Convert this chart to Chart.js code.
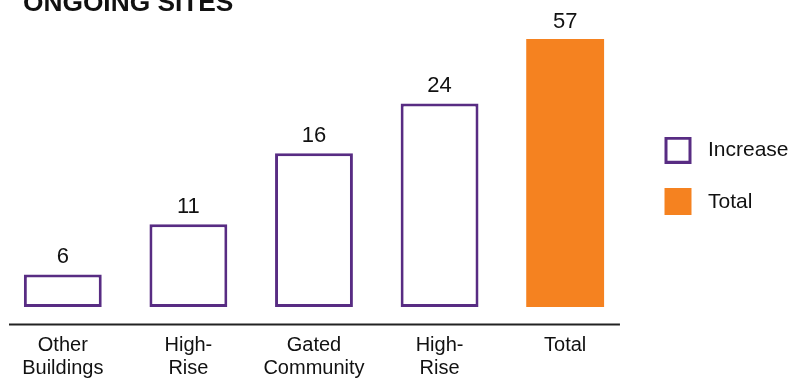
<!DOCTYPE html>
<html><head><meta charset="utf-8">
<script src="https://cdn.jsdelivr.net/npm/chart.js@4.4.1/dist/chart.umd.min.js"></script>
<style>html,body{margin:0;padding:0;background:#fff;overflow:hidden}#wrap{width:798px;height:379px;position:relative}</style>
</head><body><div id="wrap"><canvas id="c"></canvas></div>
<script>
// ---- data ----
const titleText = 'ONGOING SITES';
const categories = [['Other', 'Buildings'], ['High-', 'Rise'], ['Gated', 'Community'], ['High-', 'Rise'], ['Total']];
const valueLabels = ['6', '11', '16', '24', '57'];
// drawn bar heights as they appear in the picture (hidden axis)
const increaseHeights = [6.9, 17.6, 32.7, 43.3, null];
const totalHeights = [null, null, null, null, 57];
const seriesNames = ['Increase', 'Total'];

const PURPLE = '#582C83';
const ORANGE = '#F58220';
const TEXT = '#111111';
const FAMILY = '"Liberation Sans", Arial, Helvetica, sans-serif';
Chart.defaults.font.family = FAMILY;

function swatch(fill, stroke, lw) {
  const c = document.createElement('canvas');
  c.width = 39; c.height = 27;
  const g = c.getContext('2d');
  g.fillStyle = stroke || fill;
  g.fillRect(6, 0, 27, 27);
  if (stroke) { g.fillStyle = fill; g.fillRect(6 + lw, lw, 27 - 2 * lw, 27 - 2 * lw); }
  return c;
}
const swatches = [swatch('#ffffff', PURPLE, 3), swatch(ORANGE)];

const titlePlugin = {
  id: 'titleText',
  afterDraw(chart) {
    const ctx = chart.ctx;
    ctx.save();
    ctx.font = 'bold 26.3px ' + FAMILY;
    ctx.fillStyle = TEXT;
    ctx.textAlign = 'left';
    ctx.textBaseline = 'alphabetic';
    ctx.fillText(titleText, 23, 10.5);
    ctx.restore();
  }
};
const axisLinePlugin = {
  id: 'axisLine',
  beforeDatasetsDraw(chart) {
    const {ctx, chartArea} = chart;
    ctx.save();
    ctx.strokeStyle = '#222';
    ctx.lineWidth = 2;
    ctx.beginPath();
    ctx.moveTo(chartArea.left + 9, chartArea.bottom);
    ctx.lineTo(chartArea.right - 8, chartArea.bottom);
    ctx.stroke();
    ctx.restore();
  }
};
const valueLabelPlugin = {
  id: 'valueLabels',
  afterDatasetsDraw(chart) {
    const ctx = chart.ctx;
    ctx.save();
    ctx.font = '22px ' + FAMILY;
    ctx.fillStyle = TEXT;
    ctx.textAlign = 'center';
    ctx.textBaseline = 'alphabetic';
    chart.data.datasets.forEach((ds, d) => {
      chart.getDatasetMeta(d).data.forEach((el, i) => {
        if (ds.data[i] == null) return;
        ctx.fillText(valueLabels[i], el.x, el.y - 11.5);
      });
    });
    ctx.restore();
  }
};

new Chart(document.getElementById('c'), {
  type: 'bar',
  data: {
    labels: categories,
    datasets: [
      { label: seriesNames[0], data: increaseHeights, backgroundColor: '#ffffff', borderColor: PURPLE, borderWidth: 3, borderSkipped: false, grouped: false },
      { label: seriesNames[1], data: totalHeights, backgroundColor: ORANGE, borderWidth: 0, borderSkipped: false, grouped: false }
    ]
  },
  options: {
    responsive: true,
    maintainAspectRatio: false,
    devicePixelRatio: 1,
    animation: false,
    datasets: { bar: { categoryPercentage: 1, barPercentage: 0.62 } },
    layout: { padding: { top: 27.5, left: 0, right: -0.5, bottom: -10.7 } },
    scales: {
      x: {
        grid: { display: false, drawTicks: false },
        border: { display: false },
        ticks: { color: TEXT, font: { size: 20, lineHeight: 1.13 }, padding: 10, maxRotation: 0, autoSkip: false }
      },
      y: { display: false, min: -3.73, max: 59.45 }
    },
    plugins: {
      title: { display: false },
      tooltip: { enabled: false },
      legend: {
        position: 'right',
        fullSize: false,
        align: 'center',
        labels: {
          usePointStyle: true,
          pointStyleWidth: 39,
          padding: 30.5,
          color: TEXT,
          font: { size: 21 },
          generateLabels(chart) {
            return chart.data.datasets.map((ds, i) => ({
              text: ds.label, datasetIndex: i, pointStyle: swatches[i],
              fillStyle: ds.backgroundColor, strokeStyle: ds.borderColor, lineWidth: 0,
              hidden: false, fontColor: TEXT
            }));
          }
        }
      }
    }
  },
  plugins: [titlePlugin, axisLinePlugin, valueLabelPlugin]
});
</script>
</body></html>
